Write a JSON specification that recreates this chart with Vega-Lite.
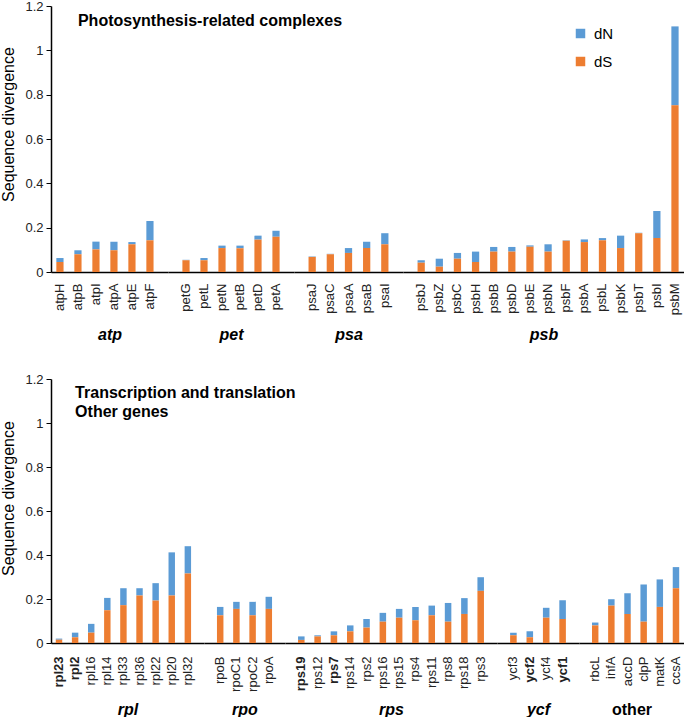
{
  "$schema": "https://vega.github.io/schema/vega-lite/v6.json",
  "padding": {"left": 0, "top": 0, "right": 0, "bottom": 0},
  "data": {"values": [
    {"gene":"atpH","grp":"atp","dS":0.045,"dN":0.018},
    {"gene":"atpB","grp":"atp","dS":0.080,"dN":0.018},
    {"gene":"atpI","grp":"atp","dS":0.102,"dN":0.035},
    {"gene":"atpA","grp":"atp","dS":0.098,"dN":0.039},
    {"gene":"atpE","grp":"atp","dS":0.125,"dN":0.010},
    {"gene":"atpF","grp":"atp","dS":0.143,"dN":0.087},
    {"gene":"petG","grp":"pet","dS":0.053,"dN":0.002},
    {"gene":"petL","grp":"pet","dS":0.053,"dN":0.010},
    {"gene":"petN","grp":"pet","dS":0.108,"dN":0.011},
    {"gene":"petB","grp":"pet","dS":0.107,"dN":0.012},
    {"gene":"petD","grp":"pet","dS":0.146,"dN":0.018},
    {"gene":"petA","grp":"pet","dS":0.159,"dN":0.027},
    {"gene":"psaJ","grp":"psa","dS":0.068,"dN":0.002},
    {"gene":"psaC","grp":"psa","dS":0.080,"dN":0.002},
    {"gene":"psaA","grp":"psa","dS":0.086,"dN":0.022},
    {"gene":"psaB","grp":"psa","dS":0.108,"dN":0.029},
    {"gene":"psaI","grp":"psa","dS":0.125,"dN":0.050},
    {"gene":"psbJ","grp":"psb","dS":0.042,"dN":0.011},
    {"gene":"psbZ","grp":"psb","dS":0.024,"dN":0.036},
    {"gene":"psbC","grp":"psb","dS":0.060,"dN":0.026},
    {"gene":"psbH","grp":"psb","dS":0.045,"dN":0.047},
    {"gene":"psbB","grp":"psb","dS":0.092,"dN":0.021},
    {"gene":"psbD","grp":"psb","dS":0.092,"dN":0.021},
    {"gene":"psbE","grp":"psb","dS":0.114,"dN":0.006},
    {"gene":"psbN","grp":"psb","dS":0.092,"dN":0.033},
    {"gene":"psbF","grp":"psb","dS":0.141,"dN":0.002},
    {"gene":"psbA","grp":"psb","dS":0.135,"dN":0.012},
    {"gene":"psbL","grp":"psb","dS":0.143,"dN":0.010},
    {"gene":"psbK","grp":"psb","dS":0.108,"dN":0.056},
    {"gene":"psbT","grp":"psb","dS":0.175,"dN":0.002},
    {"gene":"psbI","grp":"psb","dS":0.153,"dN":0.122},
    {"gene":"psbM","grp":"psb","dS":0.752,"dN":0.356},
    {"gene":"rpl23","grp":"rpl","dS":0.015,"dN":0.005},
    {"gene":"rpl2","grp":"rpl","dS":0.026,"dN":0.021},
    {"gene":"rpl16","grp":"rpl","dS":0.047,"dN":0.040},
    {"gene":"rpl14","grp":"rpl","dS":0.149,"dN":0.056},
    {"gene":"rpl33","grp":"rpl","dS":0.172,"dN":0.077},
    {"gene":"rpl36","grp":"rpl","dS":0.216,"dN":0.033},
    {"gene":"rpl22","grp":"rpl","dS":0.193,"dN":0.079},
    {"gene":"rpl20","grp":"rpl","dS":0.216,"dN":0.196},
    {"gene":"rpl32","grp":"rpl","dS":0.316,"dN":0.124},
    {"gene":"rpoB","grp":"rpo","dS":0.126,"dN":0.038},
    {"gene":"rpoC1","grp":"rpo","dS":0.155,"dN":0.032},
    {"gene":"rpoC2","grp":"rpo","dS":0.126,"dN":0.061},
    {"gene":"rpoA","grp":"rpo","dS":0.155,"dN":0.055},
    {"gene":"rps19","grp":"rps","dS":0.014,"dN":0.016},
    {"gene":"rps12","grp":"rps","dS":0.030,"dN":0.005},
    {"gene":"rps7","grp":"rps","dS":0.035,"dN":0.018},
    {"gene":"rps14","grp":"rps","dS":0.053,"dN":0.027},
    {"gene":"rps2","grp":"rps","dS":0.070,"dN":0.039},
    {"gene":"rps16","grp":"rps","dS":0.097,"dN":0.040},
    {"gene":"rps15","grp":"rps","dS":0.115,"dN":0.040},
    {"gene":"rps4","grp":"rps","dS":0.103,"dN":0.061},
    {"gene":"rps11","grp":"rps","dS":0.126,"dN":0.044},
    {"gene":"rps8","grp":"rps","dS":0.097,"dN":0.085},
    {"gene":"rps18","grp":"rps","dS":0.132,"dN":0.072},
    {"gene":"rps3","grp":"rps","dS":0.237,"dN":0.062},
    {"gene":"ycf3","grp":"ycf","dS":0.035,"dN":0.012},
    {"gene":"ycf2","grp":"ycf","dS":0.026,"dN":0.027},
    {"gene":"ycf4","grp":"ycf","dS":0.115,"dN":0.045},
    {"gene":"ycf1","grp":"ycf","dS":0.109,"dN":0.085},
    {"gene":"rbcL","grp":"other","dS":0.080,"dN":0.013},
    {"gene":"infA","grp":"other","dS":0.170,"dN":0.029},
    {"gene":"accD","grp":"other","dS":0.132,"dN":0.094},
    {"gene":"clpP","grp":"other","dS":0.097,"dN":0.169},
    {"gene":"matK","grp":"other","dS":0.164,"dN":0.125},
    {"gene":"ccsA","grp":"other","dS":0.249,"dN":0.096}
  ]},
  "transform": [{"fold": ["dN", "dS"], "as": ["type", "value"]}],
  "spacing": 31,
  "vconcat": [
    {
      "spacing": 0,
      "bounds": "flush",
      "resolve": {"scale": {"x": "independent"}},
      "hconcat": [
        {
          "width": 117, "height": 266,
          "layer": [
            {
              "transform": [{"filter": "datum.grp === 'atp'"}],
              "mark": "bar",
              "encoding": {
                "x": {"field": "gene", "type": "nominal", "sort": null, "scale": {"domain": ["atpH","atpB","atpI","atpA","atpE","atpF"], "paddingInner": 0.6, "paddingOuter": 0.55, "align": 0.27}, "axis": {"title": "atp", "titleY": 54, "labelPadding": 11}},
                "y": {"field": "value", "type": "quantitative", "stack": "zero", "scale": {"domain": [0, 1.2]}, "axis": {"title": "Sequence divergence", "titleY": 118}},
                "color": {"field": "type", "type": "nominal", "scale": {"domain": ["dN", "dS"], "range": ["#5B9BD5", "#ED7D31"]}, "legend": {"title": null, "orient": "none", "legendX": 522, "legendY": 20}},
                "order": {"field": "type", "sort": "descending"}
              }
            },
            {
              "data": {"values": [{"label": "Photosynthesis-related complexes"}]},
              "mark": {"type": "text", "align": "left", "baseline": "alphabetic", "fontSize": 16, "fontWeight": "bold", "color": "#000"},
              "encoding": {
                "x": {"datum": "atpB"},
                "y": {"datum": 1.11},
                "text": {"field": "label"}
              }
            }
          ]
        },
        {
          "width": 126, "height": 266,
          "transform": [{"filter": "datum.grp === 'pet'"}],
          "mark": "bar",
          "encoding": {
            "x": {"field": "gene", "type": "nominal", "sort": null, "scale": {"paddingInner": 0.6, "paddingOuter": 0.8, "align": 0.5}, "axis": {"title": "pet", "titleY": 54, "labelPadding": 11}},
            "y": {"field": "value", "type": "quantitative", "stack": "zero", "scale": {"domain": [0, 1.2]}, "axis": null},
            "color": {"field": "type", "type": "nominal", "scale": {"domain": ["dN", "dS"], "range": ["#5B9BD5", "#ED7D31"]}, "legend": {"title": null, "orient": "none", "legendX": 522, "legendY": 20}},
            "order": {"field": "type", "sort": "descending"}
          }
        },
        {
          "width": 109, "height": 266,
          "transform": [{"filter": "datum.grp === 'psa'"}],
          "mark": "bar",
          "encoding": {
            "x": {"field": "gene", "type": "nominal", "sort": null, "scale": {"paddingInner": 0.6, "paddingOuter": 0.8, "align": 0.5}, "axis": {"title": "psa", "titleY": 54, "labelPadding": 11}},
            "y": {"field": "value", "type": "quantitative", "stack": "zero", "scale": {"domain": [0, 1.2]}, "axis": null},
            "color": {"field": "type", "type": "nominal", "scale": {"domain": ["dN", "dS"], "range": ["#5B9BD5", "#ED7D31"]}, "legend": {"title": null, "orient": "none", "legendX": 522, "legendY": 20}},
            "order": {"field": "type", "sort": "descending"}
          }
        },
        {
          "width": 281, "height": 266,
          "transform": [{"filter": "datum.grp === 'psb'"}],
          "mark": "bar",
          "encoding": {
            "x": {"field": "gene", "type": "nominal", "sort": null, "scale": {"paddingInner": 0.6, "paddingOuter": 0.55, "align": 0.73}, "axis": {"title": "psb", "titleY": 54, "labelPadding": 11}},
            "y": {"field": "value", "type": "quantitative", "stack": "zero", "scale": {"domain": [0, 1.2]}, "axis": null},
            "color": {"field": "type", "type": "nominal", "scale": {"domain": ["dN", "dS"], "range": ["#5B9BD5", "#ED7D31"]}, "legend": {"title": null, "orient": "none", "legendX": 522, "legendY": 20}},
            "order": {"field": "type", "sort": "descending"}
          }
        }
      ]
    },
    {
      "spacing": 0,
      "bounds": "flush",
      "resolve": {"scale": {"x": "independent"}},
      "hconcat": [
        {
          "width": 153, "height": 264,
          "layer": [
            {
              "transform": [{"filter": "datum.grp === 'rpl'"}],
              "mark": "bar",
              "encoding": {
                "x": {"field": "gene", "type": "nominal", "sort": null, "scale": {"domain": ["rpl23","rpl2","rpl16","rpl14","rpl33","rpl36","rpl22","rpl20","rpl32"], "paddingInner": 0.6, "paddingOuter": 0.55, "align": 0.27}, "axis": {"title": "rpl", "titleY": 58, "labelPadding": 13}},
                "y": {"field": "value", "type": "quantitative", "stack": "zero", "scale": {"domain": [0, 1.2]}, "axis": {"title": "Sequence divergence", "titleY": 119}},
                "color": {"field": "type", "type": "nominal", "scale": {"domain": ["dN", "dS"], "range": ["#5B9BD5", "#ED7D31"]}, "legend": {"title": null, "orient": "none", "legendX": 522, "legendY": 20}},
                "order": {"field": "type", "sort": "descending"}
              }
            },
            {
              "data": {"values": [{"label": ["Transcription and translation", "Other genes"]}]},
              "mark": {"type": "text", "align": "left", "baseline": "alphabetic", "lineHeight": 19, "fontSize": 16, "fontWeight": "bold", "color": "#000"},
              "encoding": {
                "x": {"datum": "rpl2"},
                "y": {"datum": 1.115},
                "text": {"field": "label"}
              }
            }
          ]
        },
        {
          "width": 81, "height": 264,
          "transform": [{"filter": "datum.grp === 'rpo'"}],
          "mark": "bar",
          "encoding": {
            "x": {"field": "gene", "type": "nominal", "sort": null, "scale": {"paddingInner": 0.6, "paddingOuter": 0.8, "align": 0.5}, "axis": {"title": "rpo", "titleY": 58, "labelPadding": 13}},
            "y": {"field": "value", "type": "quantitative", "stack": "zero", "scale": {"domain": [0, 1.2]}, "axis": null},
            "color": {"field": "type", "type": "nominal", "scale": {"domain": ["dN", "dS"], "range": ["#5B9BD5", "#ED7D31"]}, "legend": {"title": null, "orient": "none", "legendX": 522, "legendY": 20}},
            "order": {"field": "type", "sort": "descending"}
          }
        },
        {
          "width": 212, "height": 264,
          "transform": [{"filter": "datum.grp === 'rps'"}],
          "mark": "bar",
          "encoding": {
            "x": {"field": "gene", "type": "nominal", "sort": null, "scale": {"paddingInner": 0.6, "paddingOuter": 0.8, "align": 0.5}, "axis": {"title": "rps", "titleY": 58, "labelPadding": 13}},
            "y": {"field": "value", "type": "quantitative", "stack": "zero", "scale": {"domain": [0, 1.2]}, "axis": null},
            "color": {"field": "type", "type": "nominal", "scale": {"domain": ["dN", "dS"], "range": ["#5B9BD5", "#ED7D31"]}, "legend": {"title": null, "orient": "none", "legendX": 522, "legendY": 20}},
            "order": {"field": "type", "sort": "descending"}
          }
        },
        {
          "width": 82, "height": 264,
          "transform": [{"filter": "datum.grp === 'ycf'"}],
          "mark": "bar",
          "encoding": {
            "x": {"field": "gene", "type": "nominal", "sort": null, "scale": {"paddingInner": 0.6, "paddingOuter": 0.8, "align": 0.5}, "axis": {"title": "ycf", "titleY": 58, "labelPadding": 13}},
            "y": {"field": "value", "type": "quantitative", "stack": "zero", "scale": {"domain": [0, 1.2]}, "axis": null},
            "color": {"field": "type", "type": "nominal", "scale": {"domain": ["dN", "dS"], "range": ["#5B9BD5", "#ED7D31"]}, "legend": {"title": null, "orient": "none", "legendX": 522, "legendY": 20}},
            "order": {"field": "type", "sort": "descending"}
          }
        },
        {
          "width": 105, "height": 264,
          "transform": [{"filter": "datum.grp === 'other'"}],
          "mark": "bar",
          "encoding": {
            "x": {"field": "gene", "type": "nominal", "sort": null, "scale": {"paddingInner": 0.6, "paddingOuter": 0.55, "align": 0.73}, "axis": {"title": "other", "titleY": 58, "labelPadding": 13, "titleFontStyle": "normal"}},
            "y": {"field": "value", "type": "quantitative", "stack": "zero", "scale": {"domain": [0, 1.2]}, "axis": null},
            "color": {"field": "type", "type": "nominal", "scale": {"domain": ["dN", "dS"], "range": ["#5B9BD5", "#ED7D31"]}, "legend": {"title": null, "orient": "none", "legendX": 522, "legendY": 20}},
            "order": {"field": "type", "sort": "descending"}
          }
        }
      ]
    }
  ],
  "config": {
    "font": "Liberation Sans",
    "view": {"stroke": null},
    "axisX": {
      "domainColor": "#000", "domainWidth": 1.5, "ticks": false, "labelAngle": -90,
      "labelFontSize": 13, "labelColor": "#222", "labelPadding": 9,
      "labelFontWeight": {"condition": {"test": "indexof(['rpl23','rpl2','rps19','rps7','ycf2','ycf1'], datum.value) >= 0", "value": "bold"}, "value": "normal"},
      "titleFontSize": 16, "titleFontWeight": "bold", "titleFontStyle": "italic", "titleColor": "#000"
    },
    "axisY": {
      "grid": false, "values": [0, 0.2, 0.4, 0.6, 0.8, 1, 1.2], "format": "~g",
      "domainColor": "#000", "domainWidth": 1.5, "tickColor": "#000", "tickSize": 5,
      "labelFontSize": 13, "labelColor": "#222", "labelPadding": 3,
      "titleFontSize": 16, "titleFontWeight": "normal", "titleColor": "#000", "titlePadding": 8
    },
    "legend": {"symbolType": "square", "symbolSize": 90, "labelFontSize": 15, "labelColor": "#000", "rowPadding": 12, "labelOffset": 6, "symbolStrokeWidth": 0}
  }
}
